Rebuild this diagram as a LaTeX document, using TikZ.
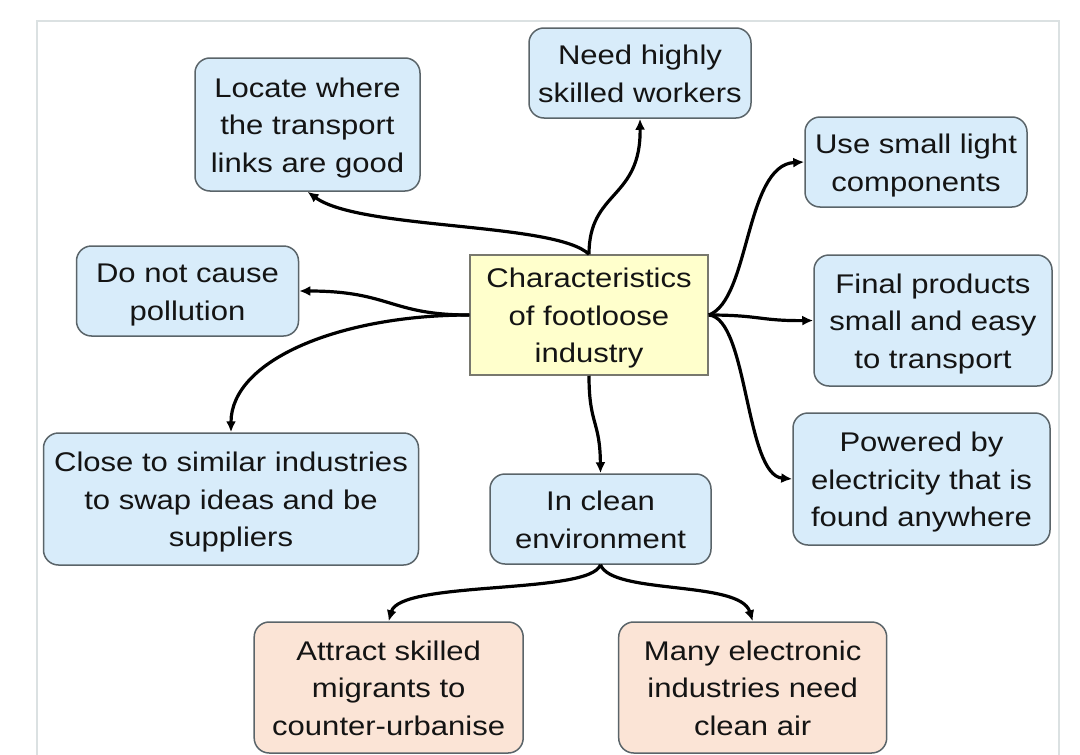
\documentclass[tikz,border=0pt]{standalone}
\usepackage{fontspec}
\setmainfont{Liberation Sans}[FakeStretch=1.15]
\usepackage{xcolor}
\usepackage{tikz}
\usetikzlibrary{arrows.meta}
\definecolor{ideablue}{RGB}{216,236,250}
\definecolor{effectpeach}{RGB}{251,228,214}
\definecolor{hubyellow}{RGB}{255,255,204}
\definecolor{rimgray}{RGB}{90,100,105}
\definecolor{hubgray}{RGB}{120,120,110}
\definecolor{framegray}{RGB}{219,225,226}
\definecolor{inkgray}{RGB}{20,20,20}
\newcommand{\boxstrut}{\rule{0pt}{26.7pt}}

\begin{document}
\begin{tikzpicture}[x=1pt,y=-1pt,
  every node/.style={align=center, inner sep=0pt, text=inkgray, font=\fontsize{27}{37.5}\selectfont,
    execute at end node={\rule[-6pt]{0pt}{6pt}}},
  idea/.style={draw=rimgray, line width=1.5pt, rounded corners=15pt, fill=ideablue},
  effect/.style={idea, fill=effectpeach},
  hubbox/.style={draw=hubgray, line width=1.5pt, fill=hubyellow},
  link/.style={line width=3.2pt, -{Latex[length=11pt,width=10pt]}}]
\useasboundingbox (0,0) rectangle (1080,755);
\draw[framegray, line width=2pt] (37,760) -- (37,21) -- (1059,21) -- (1059,760);
% Boxes
\node[hubbox, minimum width=238pt, minimum height=120pt] (hub) at (589,315) {\boxstrut Characteristics\\of footloose\\industry};
\node[idea, minimum width=225pt, minimum height=133pt] (locate) at (307.5,124.5) {\boxstrut Locate where\\the transport\\links are good};
\node[idea, minimum width=222pt, minimum height=90pt] (need) at (640,73) {\boxstrut Need highly\\skilled workers};
\node[idea, minimum width=222pt, minimum height=90pt] (light) at (916,162) {\boxstrut Use small light\\components};
\node[idea, minimum width=238pt, minimum height=131pt] (final) at (933,320.5) {\boxstrut Final products\\small and easy\\to transport};
\node[idea, minimum width=257pt, minimum height=132pt] (power) at (921.5,479) {\boxstrut Powered by\\electricity that is\\found anywhere};
\node[idea, minimum width=221pt, minimum height=90pt] (clean) at (600.5,519) {\boxstrut In clean\\environment};
\node[effect, minimum width=268pt, minimum height=131pt] (air) at (752.7,687.5) {\boxstrut Many electronic\\industries need\\clean air};
\node[effect, minimum width=269pt, minimum height=131pt] (migrant) at (388.7,687.5) {\boxstrut Attract skilled\\migrants to\\counter-urbanise};
\node[idea, minimum width=375pt, minimum height=132pt] (close) at (231,499) {\boxstrut Close to similar industries\\to swap ideas and be\\suppliers};
\node[idea, minimum width=222pt, minimum height=90pt] (pollute) at (187.5,291) {\boxstrut Do not cause\\pollution};
% Arrows
\draw[link] (hub.north) .. controls (555,222) and (360,230) .. (locate.south);
\draw[link] (hub.north) .. controls (589,190) and (641,200) .. (need.south);
\draw[link] (hub.west) .. controls (390,315) and (390,291) .. (pollute.east);
\draw[link] (hub.west) .. controls (340,315) and (231,360) .. (close.north);
\draw[link] (hub.east) .. controls (750,300) and (745,165) .. (light.west);
\draw[link] (hub.east) .. controls (760,315) and (760,321) .. (final.west);
\draw[link] (hub.east) .. controls (748,318) and (745,475) .. (power.west);
\draw[link] (hub.south) .. controls (589,425) and (600,420) .. (clean.north);
\draw[link] (clean.south) .. controls (590,595) and (400,580) .. (migrant.north);
\draw[link] (clean.south) .. controls (612,595) and (740,580) .. (air.north);
\end{tikzpicture}
\end{document}
